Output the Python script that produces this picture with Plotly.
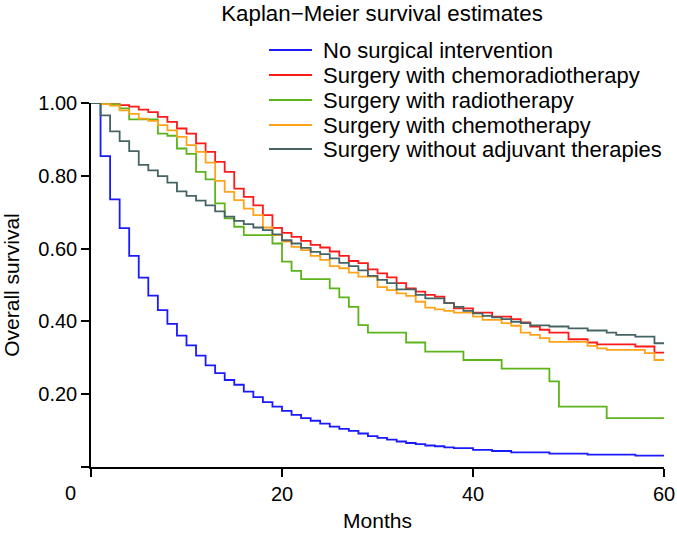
import plotly.graph_objects as go

# ---- data ----
blue_t = [0,1,2,3,4,5,6,7,8,9,10,11,12,13,14,15,16,17,18,19,20,21,22,23,24,25,26,27,28,29,30,31,32,33,34,35,36,37,38,40,42,44,48,52,57,60]
blue_s = [1.0,0.854,0.735,0.656,0.580,0.520,0.471,0.431,0.393,0.361,0.334,0.306,0.279,0.258,0.239,0.226,0.207,0.192,0.178,0.166,0.154,0.143,0.134,0.127,0.119,0.111,0.105,0.0995,0.092,0.085,0.080,0.075,0.070,0.066,0.063,0.059,0.057,0.054,0.052,0.047,0.044,0.040,0.0365,0.034,0.031,0.031]

red_t = [0,2,3,4,5,6,7,8,9,10,11,12,13,14,15,16,17,18,19,20,21,22,23,24,25,26,27,28,29,30,31,32,33,34,35,36,37,38,40,42,44,45,46,47,48,50,52,53,57,59,60]
red_s = [1.0,0.997,0.994,0.99,0.982,0.975,0.962,0.948,0.93,0.916,0.889,0.866,0.838,0.811,0.765,0.742,0.719,0.692,0.657,0.643,0.632,0.621,0.610,0.603,0.592,0.580,0.566,0.560,0.543,0.532,0.521,0.505,0.491,0.482,0.473,0.468,0.450,0.436,0.424,0.413,0.406,0.397,0.386,0.377,0.369,0.351,0.342,0.337,0.331,0.314,0.314]

green_t = [0,2,3,4,7,8,9,10,11,12,13,14,15,16,19,20,21,22,25,26,27,28,29,33,35,39,43,48,49,54,60]
green_s = [1.0,0.996,0.985,0.955,0.916,0.91,0.875,0.86,0.811,0.79,0.724,0.683,0.660,0.637,0.614,0.564,0.539,0.516,0.491,0.466,0.440,0.390,0.369,0.342,0.317,0.294,0.270,0.235,0.166,0.134,0.134]

orange_t = [0,1,2,3,4,5,6,7,8,9,10,11,12,13,14,15,16,17,18,19,20,21,22,23,24,25,26,27,28,30,31,32,33,34,35,36,37,38,40,41,43,44,45,46,47,48,52,53,54,58,59,60]
orange_s = [1.0,0.997,0.993,0.98,0.97,0.957,0.951,0.939,0.925,0.907,0.884,0.866,0.836,0.786,0.756,0.733,0.710,0.692,0.658,0.637,0.619,0.605,0.596,0.580,0.569,0.552,0.546,0.534,0.523,0.494,0.486,0.477,0.470,0.454,0.438,0.433,0.429,0.424,0.413,0.404,0.395,0.388,0.369,0.363,0.354,0.344,0.333,0.326,0.322,0.313,0.294,0.294]

grey_t = [0,1,2,3,4,5,6,7,8,9,10,11,12,13,14,15,16,17,18,19,20,21,22,23,24,25,26,27,28,29,30,31,32,34,35,37,38,39,40,41,42,43,44,45,46,48,50,52,54,55,57,59,60]
grey_s = [1.0,0.966,0.922,0.895,0.868,0.83,0.815,0.799,0.781,0.757,0.745,0.732,0.719,0.702,0.688,0.676,0.667,0.658,0.651,0.639,0.623,0.614,0.602,0.591,0.585,0.573,0.561,0.552,0.540,0.525,0.514,0.505,0.488,0.473,0.463,0.450,0.440,0.429,0.422,0.415,0.411,0.406,0.399,0.395,0.389,0.386,0.381,0.375,0.369,0.363,0.358,0.340,0.340]

series_names = ["No surgical intervention", "Surgery with chemoradiotherapy",
                "Surgery with radiotherapy", "Surgery with chemotherapy",
                "Surgery without adjuvant therapies"]
series_t = [blue_t, red_t, green_t, orange_t, grey_t]
series_s = [blue_s, red_s, green_s, orange_s, grey_s]
colors = ["#1a1aff", "#ff1a1a", "#5cb31a", "#ffa31a", "#466464"]

x_ticks = [0, 20, 40, 60]
x_ticktext = ["", "20", "40", "60"]
y_ticks = [0, 0.2, 0.4, 0.6, 0.8, 1.0]
y_ticktext = ["", "0.20", "0.40", "0.60", "0.80", "1.00"]

FONT = "Liberation Sans, Arial, sans-serif"
W, H = 677, 535
L, R, T, B = 91, 13, 103, 68
PW, PH = W - L - R, H - T - B

fig = go.Figure()
for name, t, s, c in zip(series_names, series_t, series_s, colors):
    fig.add_trace(go.Scatter(x=t, y=s, mode="lines", name=name, showlegend=False,
                             line=dict(color=c, width=1.8, shape="hv")))

# manual legend (key lines + labels) in the top margin
leg_rows_px = [50, 75, 100, 125, 149]
for i, (name, c) in enumerate(zip(series_names, colors)):
    yp = (H - B - leg_rows_px[i]) / PH
    fig.add_shape(type="line", xref="paper", yref="paper",
                  x0=(269 - L) / PW, x1=(312 - L) / PW, y0=yp, y1=yp,
                  line=dict(color=c, width=2))
    fig.add_annotation(text=name, xref="paper", yref="paper",
                       x=(321 - L) / PW, y=yp,
                       xanchor="left", yanchor="middle", showarrow=False,
                       font=dict(size=22, color="black"))

fig.update_layout(
    width=W, height=H,
    margin=dict(l=L, r=R, t=T, b=B, autoexpand=False),
    paper_bgcolor="white", plot_bgcolor="white",
    font=dict(family=FONT, size=20, color="black"),
    title=dict(text="Kaplan\u2212Meier survival estimates", x=382/W, xanchor="center",
               xref="container", y=1-13/H, yanchor="middle", yref="container",
               font=dict(size=22.3, color="black")),
    showlegend=False,
    xaxis=dict(range=[0, 60], tickvals=x_ticks, ticktext=x_ticktext,
               showgrid=False, zeroline=False, showline=True, linecolor="black",
               linewidth=1.5, ticks="outside", ticklen=8, tickwidth=1.5,
               tickcolor="black", tickfont=dict(size=20),
               title=dict(text="Months", font=dict(size=21), standoff=10)),
    yaxis=dict(range=[0, 1], tickvals=y_ticks, ticktext=y_ticktext,
               showgrid=False, zeroline=False, showline=True, linecolor="black",
               linewidth=1.5, ticks="outside", ticklen=8, tickwidth=1.5,
               tickcolor="black", tickfont=dict(size=20),
               title=dict(text="Overall survival", font=dict(size=21), standoff=20)),
)

fig.add_annotation(x=0, y=0, xref="x", yref="y", text="0", showarrow=False,
                   xshift=-21, yshift=-26, font=dict(size=20, color="black"),
                   xanchor="center", yanchor="middle")

# remove the default page margin so the figure sits at the window's top-left
fig.write_html("out.html", config={"displayModeBar": False},
               post_script="document.body.style.margin='0';document.body.style.padding='0';")
